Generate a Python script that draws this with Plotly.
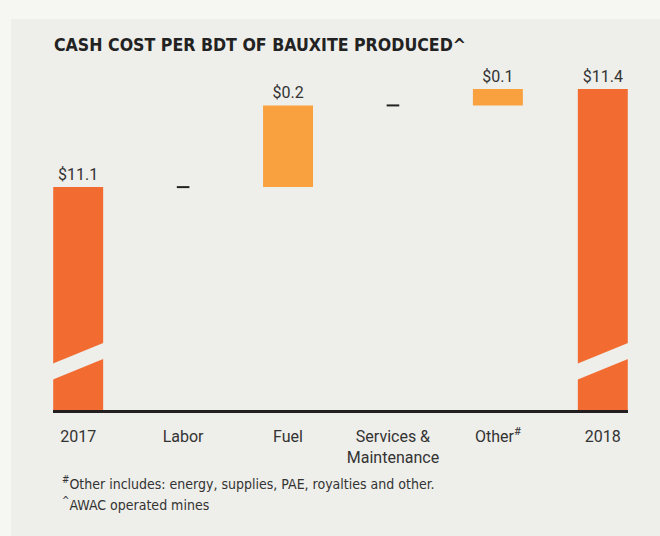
import plotly.graph_objects as go

categories = ["2017", "Labor", "Fuel", "Services &<br>Maintenance", "Other<sup>#</sup>", "2018"]
start_value = 11.1
changes = [0.0, 0.25, 0.0, 0.05]
end_value = 11.4
value_labels = ["$11.1", "", "$0.2", "", "$0.1", "$11.4"]
kinds = ["total", "step", "step", "step", "step", "total"]

title_text = "CASH COST PER BDT OF BAUXITE PRODUCED^"
footnotes = ["<sup>#</sup>Other includes: energy, supplies, PAE, royalties and other.",
             "<sup>^</sup>AWAC operated mines"]

TOTAL_COLOR = "#f26c32"
STEP_COLOR = "#f9a03f"
PANEL = "#eeeeea"
OUTER = "#f6f6f2"
TEXT = "#333333"
COND = "DejaVu Sans Condensed"

# build bases / heights
bases, heights, colors = [], [], []
level = start_value
bases.append(0); heights.append(start_value); colors.append(TOTAL_COLOR)
levels_after = [start_value]
for c in changes:
    bases.append(level); heights.append(c); colors.append(STEP_COLOR)
    level += c
    levels_after.append(level)
bases.append(0); heights.append(end_value); colors.append(TOTAL_COLOR)
levels_after.append(end_value)

bar_idx = [i for i in range(len(categories)) if not (kinds[i] == "step" and heights[i] == 0)]
dash_idx = [i for i in range(len(categories)) if kinds[i] == "step" and heights[i] == 0]

fig = go.Figure()
fig.add_trace(go.Bar(
    x=[categories[i] for i in bar_idx],
    y=[heights[i] for i in bar_idx],
    base=[bases[i] for i in bar_idx],
    marker=dict(color=[colors[i] for i in bar_idx], line=dict(width=0)),
    text=[value_labels[i] for i in bar_idx],
    textposition="outside",
    textfont=dict(family="Roboto", size=16, color=TEXT),
    cliponaxis=False,
    width=0.476,
    hoverinfo="skip",
))
fig.add_trace(go.Scatter(
    x=[categories[i] for i in dash_idx],
    y=[levels_after[i] for i in dash_idx],
    mode="markers",
    marker=dict(symbol="line-ew", size=9, line=dict(width=2, color="#222222")),
    hoverinfo="skip",
))

W, H = 660, 536
L, R, T, B = 53, 32, 60, 126
pw, ph = W - L - R, H - T - B

def px(x):
    return (x - L) / pw

def py(y):
    return (H - B - y) / ph

shapes = [
    dict(type="rect", xref="paper", yref="paper", x0=px(11), x1=px(662), y0=py(19), y1=py(540),
         fillcolor=PANEL, line=dict(width=0), layer="below"),
]
# broken-bar slashes on the total bars
for i in range(len(categories)):
    if kinds[i] == "total":
        x0, x1 = i - 0.25, i + 0.25
        shapes.append(dict(
            type="path", xref="x", yref="paper",
            path=f"M {x0},{py(364)} L {x1},{py(342.5)} L {x1},{py(358.5)} L {x0},{py(380)} Z",
            fillcolor=PANEL, line=dict(width=0), layer="above"))

annotations = [
    dict(text=f"<b>{title_text}</b>", xref="paper", yref="paper", x=px(52), y=py(45),
         xanchor="left", yanchor="middle", showarrow=False,
         font=dict(family=COND, size=17.6, color="#222222")),
    dict(text=footnotes[0], xref="paper", yref="paper", x=px(60), y=py(483),
         xanchor="left", yanchor="middle", showarrow=False,
         font=dict(family=COND, size=14, color=TEXT)),
    dict(text=footnotes[1], xref="paper", yref="paper", x=px(60), y=py(504),
         xanchor="left", yanchor="middle", showarrow=False,
         font=dict(family=COND, size=14, color=TEXT)),
]

fig.update_layout(
    width=W, height=H,
    margin=dict(l=L, r=R, t=T, b=B, pad=0),
    paper_bgcolor=OUTER, plot_bgcolor="rgba(0,0,0,0)",
    showlegend=False,
    shapes=shapes, annotations=annotations,
    xaxis=dict(type="category", categoryorder="array", categoryarray=categories,
               range=[-0.24, 5.24], showgrid=False, zeroline=False,
               showline=True, linecolor="#231f20", linewidth=3, ticks="",
               tickfont=dict(family="Roboto", size=16, color=TEXT), ticklabelstandoff=10),
    yaxis=dict(range=[10.418, 11.489], visible=False, showgrid=False, zeroline=False),
)

fig.write_html("out.html", config={"displayModeBar": False},
               post_script="document.body.style.margin='0';")
